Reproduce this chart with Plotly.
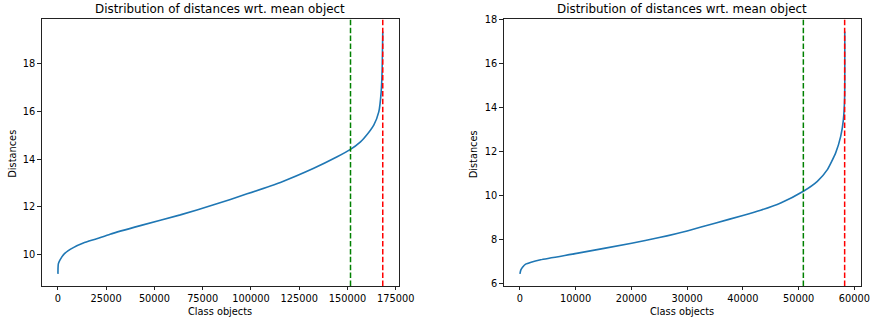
import plotly.graph_objects as go

# ---- data ----
left_x = [0, 50, 200, 1090, 3680, 7980, 13160, 20100, 27000, 42660, 63400,
          80660, 97980, 115240, 132500, 144640, 151530, 156720, 158420, 163600,
          166200, 167440, 167960, 168260]
left_y = [9.20, 9.45, 9.62, 9.79, 10.07, 10.30, 10.49, 10.67, 10.86, 11.22, 11.67,
          12.09, 12.55, 13.03, 13.62, 14.10, 14.41, 14.73, 14.87, 15.43,
          15.98, 16.82, 17.79, 19.35]
left_green = 151555
left_red = 168262

right_x = [0, 150, 500, 1020, 2000, 3710, 10170, 20040, 25000, 30000, 35000, 40000,
           43190, 46780, 50850, 53360, 55160, 56650, 57550, 58030, 58260, 58280]
right_y = [6.45, 6.62, 6.76, 6.89, 6.98, 7.09, 7.38, 7.84, 8.10, 8.40, 8.75, 9.10,
           9.34, 9.67, 10.20, 10.65, 11.18, 11.94, 12.69, 13.44, 14.50, 17.45]
right_green = 50850
right_red = 58260

left_xticks = [0, 25000, 50000, 75000, 100000, 125000, 150000, 175000]
left_yticks = [10, 12, 14, 16, 18]
right_xticks = [0, 10000, 20000, 30000, 40000, 50000, 60000]
right_yticks = [6, 8, 10, 12, 14, 16, 18]

title_text = "Distribution of distances wrt. mean object"
xlabel = "Class objects"
ylabel = "Distances"

# ---- figure ----
W, H = 873, 320
FONT = "DejaVu Sans"
TICK_SIZE = 9.8
TITLE_SIZE = 11.9

fig = go.Figure()
fig.add_trace(go.Scatter(x=left_x, y=left_y, mode="lines",
                         line=dict(color="#1f77b4", width=1.6, shape="spline", smoothing=0.5),
                         xaxis="x", yaxis="y", showlegend=False, hoverinfo="skip"))
fig.add_trace(go.Scatter(x=right_x, y=right_y, mode="lines",
                         line=dict(color="#1f77b4", width=1.6, shape="spline", smoothing=0.5),
                         xaxis="x2", yaxis="y2", showlegend=False, hoverinfo="skip"))

dash = "5.5px,2.4px"
for xref, yref, xv, col in [("x", "y domain", left_green, "#008000"),
                            ("x", "y domain", left_red, "#ff0000"),
                            ("x2", "y2 domain", right_green, "#008000"),
                            ("x2", "y2 domain", right_red, "#ff0000")]:
    fig.add_shape(type="line", xref=xref, yref=yref, x0=xv, x1=xv, y0=0, y1=1,
                  line=dict(color=col, width=1.5, dash=dash), layer="above")

def px2x(p):
    return p / W

def px2y(p):
    return 1 - p / H

ydom = [px2y(286), px2y(19.3)]
axis_common = dict(showline=True, linecolor="#222", linewidth=0.9, mirror=True,
                   ticks="outside", ticklen=3.5, tickwidth=0.9, tickcolor="#222",
                   showgrid=False, zeroline=False, automargin=False,
                   tickfont=dict(family=FONT, size=TICK_SIZE, color="black"))

def xr(n):
    return [-0.05 * n, 1.05 * n]

def yr(lo, hi):
    m = 0.05 * (hi - lo)
    return [lo - m, hi + m]

fig.update_layout(
    width=W, height=H,
    margin=dict(l=0, r=0, t=0, b=0, autoexpand=False),
    paper_bgcolor="white", plot_bgcolor="white",
    font=dict(family=FONT, color="black"),
    xaxis=dict(domain=[px2x(41.7), px2x(399)], range=xr(max(left_x)),
               tickvals=left_xticks, ticktext=[str(v) for v in left_xticks],
               anchor="y", **axis_common),
    yaxis=dict(domain=ydom, range=yr(min(left_y), max(left_y)),
               tickvals=left_yticks, ticktext=[str(v) for v in left_yticks],
               anchor="x", **axis_common),
    xaxis2=dict(domain=[px2x(503.7), px2x(861)], range=xr(max(right_x)),
                tickvals=right_xticks, ticktext=[str(v) for v in right_xticks],
                anchor="y2", **axis_common),
    yaxis2=dict(domain=ydom, range=[5.9, 18.0],
                tickvals=right_yticks, ticktext=[str(v) for v in right_yticks],
                anchor="x2", **axis_common),
)

ann = []
for cx, ycx in [((41.7 + 399) / 2, 11.7), ((503.7 + 861) / 2, 473.3)]:
    ann.append(dict(text=title_text, x=px2x(cx), y=px2y(9), xref="paper", yref="paper",
                    xanchor="center", yanchor="middle", showarrow=False,
                    font=dict(family=FONT, size=TITLE_SIZE, color="black")))
    ann.append(dict(text=xlabel, x=px2x(cx), y=px2y(311.5), xref="paper", yref="paper",
                    xanchor="center", yanchor="middle", showarrow=False,
                    font=dict(family=FONT, size=TICK_SIZE, color="black")))
    ann.append(dict(text=ylabel, x=px2x(ycx), y=px2y(154), xref="paper", yref="paper",
                    xanchor="center", yanchor="middle", showarrow=False, textangle=-90,
                    font=dict(family=FONT, size=TICK_SIZE, color="black")))
fig.update_layout(annotations=ann)

fig.write_html("out.html", config={"displayModeBar": False},
               post_script="document.body.style.margin='0';document.body.style.overflow='hidden';")
